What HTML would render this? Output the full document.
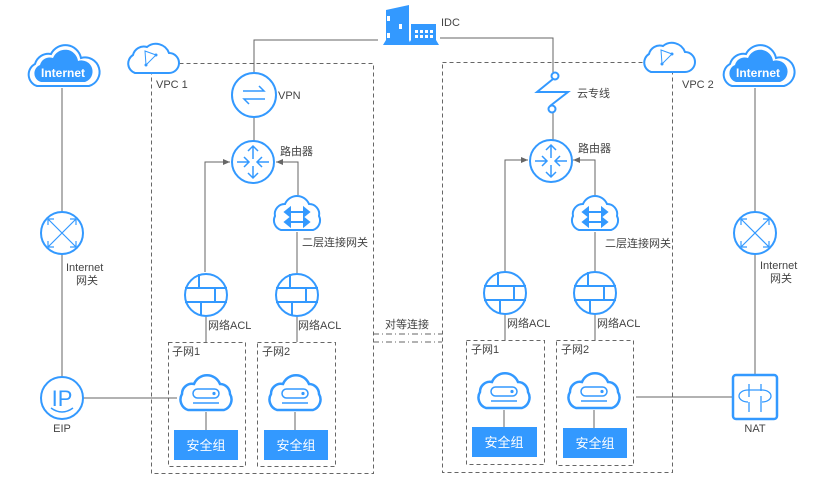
<!DOCTYPE html>
<html><head><meta charset="utf-8"><style>
html,body{margin:0;padding:0;background:#fff;}
svg{display:block;}
text{font-family:"Liberation Sans","Noto Sans CJK SC",sans-serif;font-size:11px;fill:#444;}
</style></head><body>
<svg width="823" height="477" viewBox="0 0 823 477" xmlns="http://www.w3.org/2000/svg">
<defs>
<marker id="ar" markerWidth="8" markerHeight="8" refX="7" refY="4" orient="auto" markerUnits="userSpaceOnUse">
<path d="M0,1 L7,4 L0,7 Z" fill="#666"/></marker>
<g id="vpccloud">
<path d="M-16,18 A10,10 0 0 1 -18,0 A11,11 0 0 1 -4,-8 A14,14 0 0 1 18,-2 A10,10 0 0 1 18,18 Z" fill="#fff" stroke="#3399ff" stroke-width="2"/>
<path d="M-6,-4 L5,0 L-5,10 Z" fill="none" stroke="#3399ff" stroke-width="1"/>
<circle cx="-5" cy="10" r="1.5" fill="#3399ff"/><circle cx="5" cy="0" r="1.5" fill="#3399ff"/>
</g>
<g id="inetcloud">
<path d="M-26,20 A12,12 0 0 1 -28,-2 A14,14 0 0 1 -12,-12 A16,16 0 0 1 18,-8 A13,13 0 0 1 26,20 Z" fill="#fff" stroke="#3399ff" stroke-width="2"/>
<path d="M-22,16 A9,9 0 0 1 -23,-1 A10,10 0 0 1 -10,-8 A13,13 0 0 1 15,-5 A10,10 0 0 1 22,16 Z" fill="#3399ff"/>
<text x="0" y="11" text-anchor="middle" style="fill:#fff;font-size:12px;font-weight:bold">Internet</text>
</g>
<g id="acl">
<circle r="21" fill="#fff" stroke="#3399ff" stroke-width="2"/>
<path d="M-21,-7 H21 M-21,7 H21 M-7,-21 V-7 M-5,7 V21 M9,-7 V7" stroke="#3399ff" stroke-width="2"/>
</g>
<g id="router">
<circle r="21" fill="#fff" stroke="#3399ff" stroke-width="2"/>
<g stroke="#3399ff" stroke-width="1.5" fill="none">
<path d="M0,-3 V-16 M-5,-11 L0,-16 L5,-11"/>
<path d="M0,4 V16 M-5,11 L0,16 L5,11"/>
<path d="M-16,0 H-4 M-9,-5 L-4,0 L-9,5"/>
<path d="M16,0 H4 M9,-5 L4,0 L9,5"/>
</g></g>
<g id="l2">
<path d="M-16,18 A10,10 0 0 1 -22,4 A10,10 0 0 1 -12,-8 A13,13 0 0 1 12,-8 A10,10 0 0 1 22,4 A10,10 0 0 1 16,18 Z" fill="#fff" stroke="#3399ff" stroke-width="2"/>
<g stroke="#3399ff" stroke-width="2" fill="#3399ff">
<path d="M-10,0 H10 M-10,10 H10" /><path d="M-12,0 L-7,-4 V4 Z M12,0 L7,-4 V4Z M-12,10 L-7,6 V14Z M12,10 L7,6 V14Z"/>
</g></g>
<g id="srv">
<path d="M-18,18 A11,11 0 0 1 -24,2 A10,10 0 0 1 -12,-8 A14,14 0 0 1 14,-8 A10,10 0 0 1 24,2 A11,11 0 0 1 18,18 Z" fill="#fff" stroke="#3399ff" stroke-width="2.5"/>
<rect x="-13" y="-3" width="26" height="9" rx="4.5" fill="none" stroke="#3399ff" stroke-width="1.5"/>
<circle cx="8" cy="1.5" r="1.6" fill="#3399ff"/>
<path d="M-13,11 H13" stroke="#3399ff" stroke-width="1.5"/>
</g>
<g id="gw">
<circle r="21" fill="#fff" stroke="#3399ff" stroke-width="2"/>
<path d="M-14,-14 L14,14 M14,-14 L-14,14 M-14,-14 l0,6 M-14,-14 l6,0 M14,14 l0,-6 M14,14 l-6,0 M14,-14 l-6,0 M14,-14 l0,6 M-14,14 l6,0 M-14,14 l0,-6" stroke="#3399ff" stroke-width="1.2" fill="none"/>
</g>
</defs>

<g fill="none" stroke="#666" stroke-width="1" stroke-dasharray="4,3">
<rect x="151.5" y="63.5" width="222" height="410"/>
<rect x="442.5" y="62.5" width="230" height="410"/>
<rect x="168.5" y="342.5" width="77" height="124"/>
<rect x="257.5" y="342.5" width="78" height="124"/>
<rect x="466.5" y="340.5" width="78" height="124"/>
<rect x="556.5" y="340.5" width="77" height="125"/>
</g>
<g stroke="#666" stroke-width="1" stroke-dasharray="6,3,1,3" fill="none">
<path d="M373,334 H442 M373,342 H442"/>
</g>
<text x="385" y="328">对等连接</text>

<g stroke="#666" stroke-width="1" fill="none">
<path d="M378,40 H254 V74"/>
<path d="M440,38 H553 V74"/>
<path d="M254,117 V141"/>
<path d="M205,272 V162 H230" marker-end="url(#ar)"/>
<path d="M298,195 V162 H276" marker-end="url(#ar)"/>
<path d="M206,317 V342 M297,317 V342 M297,232 V273"/>
<path d="M206,412 V430 M295,412 V430"/>
<path d="M553,112 V140"/>
<path d="M505,271 V160 H528" marker-end="url(#ar)"/>
<path d="M595,195 V160 H573" marker-end="url(#ar)"/>
<path d="M505,315 V340 M595,315 V340 M595,232 V271"/>
<path d="M504,410 V427 M594,410 V428"/>
<path d="M62,88 V377 M83,398 H177"/>
<path d="M755,88 V375 M636,397 H733"/>
</g>

<g fill="#3399ff">
<path d="M383,45 L386,40 V10 L409,5 V40 L411,45 Z"/>
<rect x="411" y="24" width="25" height="17"/>
<path d="M408,45 L411,40 H436 L439,45 Z"/>
</g>
<g fill="#fff"><rect x="387" y="16" width="3" height="5"/><rect x="399" y="24" width="3" height="5"/><rect x="387" y="33" width="3" height="5"/>
<rect x="415" y="30" width="3" height="3"/><rect x="420" y="30" width="3" height="3"/><rect x="425" y="30" width="3" height="3"/><rect x="430" y="30" width="3" height="3"/>
<rect x="415" y="35" width="3" height="3"/><rect x="420" y="35" width="3" height="3"/><rect x="425" y="35" width="3" height="3"/><rect x="430" y="35" width="3" height="3"/></g>
<text x="441" y="26">IDC</text>

<use href="#vpccloud" x="151" y="55"/>
<text x="156" y="88">VPC 1</text>
<use href="#vpccloud" x="667" y="54"/>
<text x="682" y="88">VPC 2</text>

<circle cx="254" cy="95" r="22" fill="#fff" stroke="#3399ff" stroke-width="2"/>
<path d="M243,91 H264 L259,86 M265,99 H244 L249,104" fill="none" stroke="#3399ff" stroke-width="1.5"/>
<text x="278" y="99">VPN</text>

<use href="#router" x="253" y="162"/>
<text x="280" y="155">路由器</text>
<use href="#l2" x="297" y="212"/>
<text x="302" y="246">二层连接网关</text>
<use href="#acl" x="206" y="295"/>
<use href="#acl" x="297" y="295"/>
<text x="208" y="329">网络ACL</text>
<text x="298" y="329">网络ACL</text>
<text x="172" y="355">子网1</text>
<text x="262" y="355">子网2</text>
<use href="#srv" x="206" y="392"/>
<use href="#srv" x="295" y="392"/>
<rect x="174" y="430" width="64" height="30" fill="#3399ff"/>
<rect x="264" y="430" width="64" height="30" fill="#3399ff"/>
<text x="206" y="450" text-anchor="middle" style="fill:#fff;font-size:13px">安全组</text>
<text x="296" y="450" text-anchor="middle" style="fill:#fff;font-size:13px">安全组</text>

<g stroke="#3399ff" stroke-width="2" fill="#fff">
<circle cx="555" cy="76" r="3.5"/><circle cx="552" cy="109" r="3.5"/>
<path d="M553,79 L537,92 H568 L550,106" fill="none"/>
</g>
<text x="577" y="97">云专线</text>
<use href="#router" x="551" y="161"/>
<text x="578" y="152">路由器</text>
<use href="#l2" x="595" y="212"/>
<text x="605" y="247">二层连接网关</text>
<use href="#acl" x="505" y="293"/>
<use href="#acl" x="595" y="293"/>
<text x="507" y="327">网络ACL</text>
<text x="597" y="327">网络ACL</text>
<text x="471" y="353">子网1</text>
<text x="561" y="353">子网2</text>
<use href="#srv" x="504" y="390"/>
<use href="#srv" x="594" y="390"/>
<rect x="472" y="427" width="65" height="30" fill="#3399ff"/>
<rect x="563" y="428" width="64" height="30" fill="#3399ff"/>
<text x="504" y="447" text-anchor="middle" style="fill:#fff;font-size:13px">安全组</text>
<text x="595" y="448" text-anchor="middle" style="fill:#fff;font-size:13px">安全组</text>

<use href="#inetcloud" x="63" y="66"/>
<use href="#gw" x="62" y="233"/>
<text x="66" y="271">Internet</text>
<text x="76" y="284">网关</text>
<circle cx="62" cy="398" r="21" fill="#fff" stroke="#3399ff" stroke-width="2"/>
<text x="62" y="406" text-anchor="middle" style="fill:#3399ff;font-size:22px">IP</text>
<path d="M51,408 Q62,416 73,408" stroke="#3399ff" stroke-width="1.5" fill="none"/>
<text x="62" y="432" text-anchor="middle">EIP</text>

<use href="#inetcloud" x="758" y="66"/>
<use href="#gw" x="755" y="233"/>
<text x="760" y="269">Internet</text>
<text x="770" y="282">网关</text>
<rect x="733" y="375" width="44" height="44" rx="3" fill="#fff" stroke="#3399ff" stroke-width="2.5"/>
<g stroke="#3399ff" stroke-width="1.3" fill="none">
<path d="M748,402 A9,6 0 0 1 748,390 H762 A9,6 0 0 1 762,402"/>
<path d="M749,384 V397 M761,396 V412 M749,402 V412 M761,384 V391"/>
</g>
<text x="755" y="432" text-anchor="middle">NAT</text>
</svg>
</body></html>
